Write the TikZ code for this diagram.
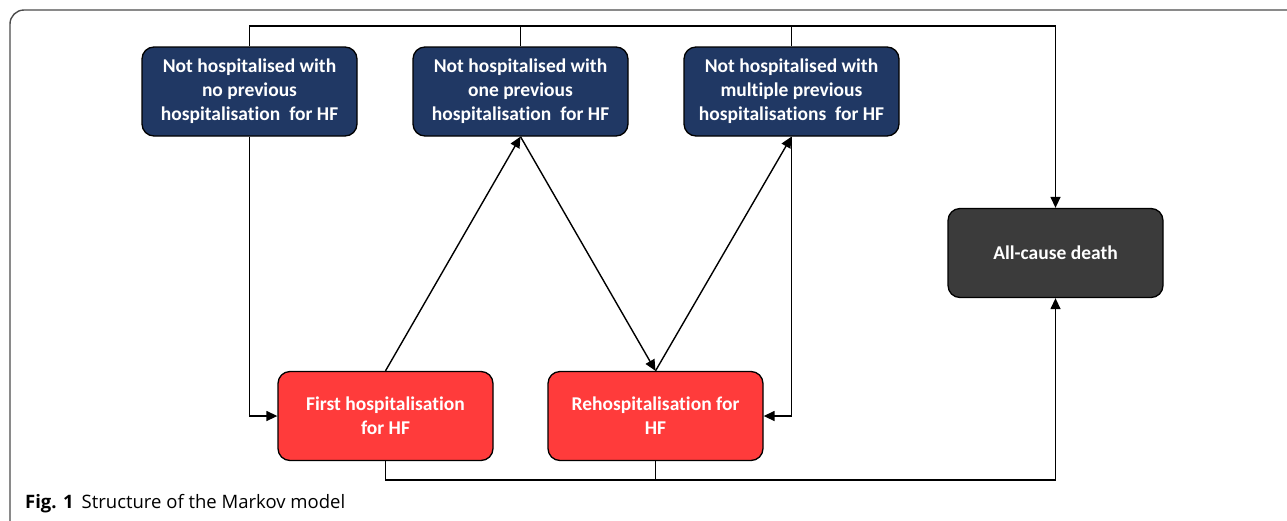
\documentclass[tikz,border=0pt]{standalone}
\usepackage{fontspec}
\setmainfont[Ligatures={NoCommon}]{Carlito}
\newfontfamily\capfont{Open Sans}
\usetikzlibrary{arrows.meta,positioning}
\definecolor{navy}{HTML}{203864}
\definecolor{hred}{HTML}{FF3B3B}
\definecolor{dgray}{HTML}{3B3B3B}
\tikzset{
  state/.style={draw=black, line width=1.3pt, rounded corners=12pt, minimum width=215pt, minimum height=89pt, align=center, text=white, font=\bfseries\fontsize{19.5}{24}\selectfont, inner sep=0pt},
  blue/.style={state, fill=navy},
  redbox/.style={state, fill=hred},
  deathbox/.style={state, fill=dgray},
  conn/.style={draw=black, line width=1.4pt},
  arr/.style={conn, -{Triangle[length=11pt,width=10pt]}},
}
\begin{document}
\begin{tikzpicture}[x=1pt,y=-1pt]
\useasboundingbox (0,0) rectangle (1287,520);
\begin{scope}
\clip (0,0) rectangle (1287,520);
\draw[draw=black!70, line width=1.4pt, rounded corners=14pt] (10,10) rectangle (1320,560);
\end{scope}
\node[blue] (n1) at (249.5,91.5) {Not hospitalised with\\no previous\\hospitalisation\ \ for HF};
\node[blue] (n2) at (520.5,91.5) {Not hospitalised with\\one previous\\hospitalisation\ \ for HF};
\node[blue] (n3) at (791.5,91.5) {Not hospitalised with\\multiple previous\\hospitalisations\ \ for HF};
\node[deathbox] (d) at (1055.5,253) {All-cause death};
\node[redbox] (f) at (385.5,416) {First hospitalisation\\for HF};
\node[redbox] (r) at (655.5,416) {Rehospitalisation for\\HF};
\coordinate (top) at (1055.5,26);
\coordinate (bot) at (1055.5,480);
% top bus
\draw[conn] (n1.north) |- (top);
\draw[conn] (n2.north) -- (n2.north |- top);
\draw[conn] (n3.north) -- (n3.north |- top);
\draw[arr] (top) -- (d.north);
% bottom bus
\draw[conn] (f.south) |- (bot);
\draw[conn] (r.south) -- (r.south |- bot);
\draw[arr] (bot) -- (d.south);
% transitions
\draw[arr] (n1.south) |- (f.west);
\draw[arr] (f.north) -- (n2.south);
\draw[arr] (n2.south) -- (r.north);
\draw[arr] (r.north) -- (n3.south);
\draw[arr] (n3.south) |- (r.east);
\node[anchor=base west, inner sep=0pt, font=\capfont\fontsize{18.5}{22}\selectfont] (cap) at (25,508) {\textbf{Fig. 1}\hspace{8pt}Structure of the Markov model};
\end{tikzpicture}
\end{document}
